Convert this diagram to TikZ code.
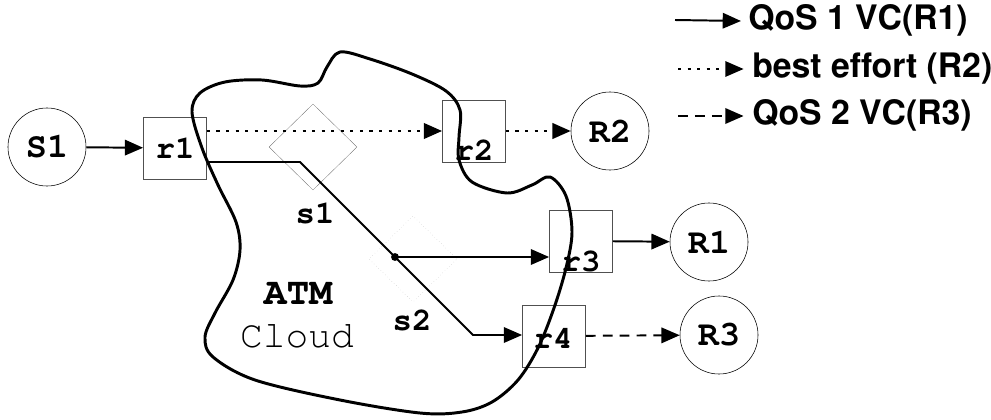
\documentclass[tikz,border=0pt]{standalone}
\usepackage[T1]{fontenc}
\usepackage{courier}
\usepackage{helvet}
\usepackage{tikz}
\usetikzlibrary{shapes.geometric,arrows.meta,calc}
\usepackage{xcolor}
\definecolor{boxgray}{RGB}{80,80,80}
\definecolor{swgray}{RGB}{100,100,100}

\begin{document}
\begin{tikzpicture}[x=0.025cm, y=-0.025cm,
    endpt/.style={circle, draw, thin, minimum size=1.95cm, inner sep=0pt,
                  font=\ttfamily\bfseries\fontsize{25}{25}\selectfont},
    rbox/.style={rectangle, draw=boxgray, thin, minimum width=1.58cm, minimum height=1.55cm, inner sep=0pt},
    rlab/.style={inner sep=0pt, font=\ttfamily\bfseries\fontsize{23}{23}\selectfont},
    swnode/.style={diamond, draw=swgray, very thin, minimum width=2.2cm, minimum height=2.15cm, inner sep=0pt},
    arrowtip/.style={-{Triangle[length=13pt, width=11pt]}},
    vc/.style={arrowtip, line width=1.4pt},
    be/.style={arrowtip, line width=1.8pt, dash pattern=on 2.2pt off 4.6pt},
    vctwo/.style={arrowtip, line width=1.4pt, dash pattern=on 7pt off 5pt},
    legtext/.style={anchor=west, inner sep=0pt, font=\sffamily\bfseries\fontsize{24}{24}\selectfont}
]
\useasboundingbox (0,0) rectangle (991,420);

% hosts and routers
\node[endpt] (S1) at (47,147) {S1};
\node[endpt] (R2) at (610,131) {R2};
\node[endpt] (R1) at (709,242) {R1};
\node[endpt] (R3) at (719,335) {R3};

\node[rbox] (r1) at (175,148) {};
\node[rbox] (r2) at (474,131) {};
\node[rbox] (r3) at (581,241) {};
\node[rbox] (r4) at (554,336) {};
\node[rlab] (r1t) at (175,148) {r1};
\node[rlab] (r2t) at (474,150) {r2};
\node[rlab] (r3t) at (581,262) {r3};
\node[rlab] (r4t) at (553,338) {r4};

% ATM switches
\node[swnode] (s1) at (313,147) {};
\node[swnode, dotted, draw=swgray!70] (s2) at (413,259) {};
\node[rlab] (s1t) at (315,214) {s1};
\node[rlab] (s2t) at (412,321) {s2};

% the cloud
\draw[line width=2.1pt] plot[smooth cycle, tension=0.55] coordinates {
  (192,112) (200,93) (225,82) (262,80) (300,86) (318,83) (327,67) (340,52)
  (370,59) (412,74) (446,91) (460,110) (459,137) (459,160) (472,182) (507,193)
  (532,185) (550,177) (566,196) (572,232) (566,268) (554,308) (538,348)
  (518,380) (492,402) (462,412) (420,413) (340,400) (255,380) (213,357)
  (205,337) (215,313) (233,280) (240,250) (236,222) (218,185) (202,148)};
\node[font=\ttfamily\bfseries\fontsize{27}{27}\selectfont] (atm) at (298,294) {ATM};
\node[font=\ttfamily\fontsize{27}{27}\selectfont] (cloud) at (297,336) {Cloud};

% connections
\coordinate (k1) at (300,162);
\coordinate (d) at (395,257);
\coordinate (k2) at (473,335);
\draw[vc] (S1) -- (r1);
\draw[be] (r1.east |- r2) -- (r2);
\draw[be] (r2) -- (R2);
\draw[vc] (r1.east |- k1) -- (k1) -- (d) -- (k2) -- (k2 -| r4.west);
\draw[vc] (d) -- (d -| r3.west);
\fill (d) circle (2.8pt);
\draw[vc] (r3) -- (R1);
\draw[vctwo] (r4) -- (R3);

% legend
\node[legtext] (q1) at (748,21) {QoS 1 VC(R1)};
\node[legtext] (q2) at (752,69) {best effort (R2)};
\node[legtext] (q3) at (752,116) {QoS 2 VC(R3)};
\coordinate (l1) at (675,20);
\coordinate (l2) at (678,69);
\coordinate (l3) at (678,116);
\draw[vc] (l1) -- ([xshift=-5pt]q1.west);
\draw[be, line width=1.2pt] (l2) -- ([xshift=-6pt]q2.west);
\draw[vctwo] (l3) -- ([xshift=-6pt]q3.west);
\end{tikzpicture}
\end{document}
